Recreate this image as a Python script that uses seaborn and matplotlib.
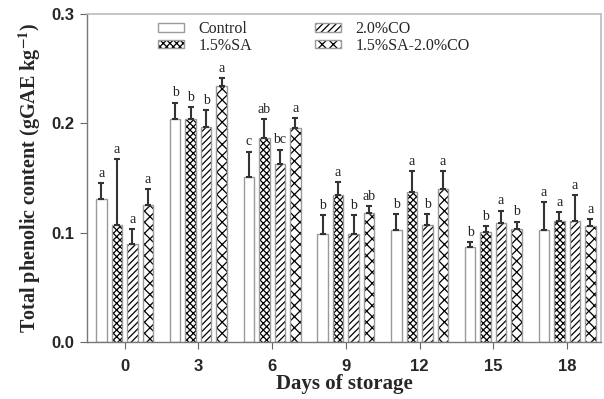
import matplotlib
matplotlib.use("Agg")
import matplotlib.pyplot as plt
from matplotlib.patches import Patch
from matplotlib.container import BarContainer
import matplotlib.colors as mcolors
import seaborn as sns
import pandas as pd
import numpy as np

days = ["0", "3", "6", "9", "12", "15", "18"]
treatments = ["Control", "1.5%SA", "2.0%CO", "1.5%SA-2.0%CO"]

control = [0.131, 0.204, 0.151, 0.099, 0.102, 0.087, 0.102]
sa      = [0.107, 0.204, 0.187, 0.134, 0.137, 0.101, 0.111]
co      = [0.090, 0.197, 0.163, 0.099, 0.107, 0.109, 0.111]
mix     = [0.125, 0.234, 0.196, 0.118, 0.140, 0.103, 0.106]

control_err = [0.014, 0.015, 0.023, 0.017, 0.015, 0.004, 0.026]
sa_err      = [0.060, 0.011, 0.017, 0.012, 0.019, 0.005, 0.008]
co_err      = [0.013, 0.015, 0.013, 0.017, 0.010, 0.011, 0.023]
mix_err     = [0.015, 0.007, 0.009, 0.006, 0.016, 0.007, 0.006]

control_lbl = ["a", "b", "c", "b", "b", "b", "a"]
sa_lbl      = ["a", "b", "ab", "a", "a", "b", "a"]
co_lbl      = ["a", "b", "bc", "b", "b", "a", "a"]
mix_lbl     = ["a", "a", "a", "ab", "a", "b", "a"]

values = [control, sa, co, mix]
errors = [control_err, sa_err, co_err, mix_err]
labels = [control_lbl, sa_lbl, co_lbl, mix_lbl]

rows = []
for t, vals in zip(treatments, values):
    for d, v in zip(days, vals):
        rows.append({"Day": d, "Treatment": t, "Value": v})
df = pd.DataFrame(rows)

sns.set_style("ticks")
plt.rcParams["hatch.linewidth"] = 0.9
plt.rcParams["mathtext.fontset"] = "stix"

fig = plt.figure(figsize=(6.04, 3.99), dpi=100)
ax = fig.add_axes([0.144, 0.143, 0.851, 0.822])

sns.barplot(data=df, x="Day", y="Value", hue="Treatment", order=days,
            hue_order=treatments, errorbar=None, width=0.84, gap=0.32,
            palette=["white"] * 4, legend=False, ax=ax,
            edgecolor="#9a9a9a", linewidth=1.0)

hatches = [None, "xxxxx", "/////", "xxx"]
edge = "#9a9a9a"
black = mcolors.to_rgba("black")


def style_patch(p, hatch):
    p.set_facecolor("white")
    p.set_edgecolor(edge)
    if hatch:
        p.set_hatch(hatch)
        if hasattr(p, "set_hatchcolor"):
            p.set_hatchcolor("black")
        p._hatch_color = black


bar_conts = [c for c in ax.containers if isinstance(c, BarContainer)]
for i, cont in enumerate(bar_conts):
    for j, p in enumerate(cont.patches):
        style_patch(p, hatches[i])
        xc = p.get_x() + p.get_width() / 2
        top = p.get_height()
        e = errors[i][j]
        ax.errorbar([xc], [top], yerr=[[0], [e]], fmt="none", ecolor="#333333",
                    elinewidth=1.5, capsize=2.2, capthick=1.5, zorder=3)
        ax.text(xc, top + e + 0.003, labels[i][j], ha="center", va="bottom",
                fontsize=10, family="Liberation Serif", color="#222222")

ax.set_ylim(0, 0.3)
ax.set_xlim(-0.51, 6.46)
ax.set_yticks([0.0, 0.1, 0.2, 0.3])
ax.set_yticklabels(["0.0", "0.1", "0.2", "0.3"])
for lab in ax.get_xticklabels() + ax.get_yticklabels():
    lab.set_fontweight("bold")
    lab.set_fontfamily("Liberation Sans")
    lab.set_fontsize(12)
ax.tick_params(axis="both", direction="out", length=5, width=0.8, color="#666666")
ax.tick_params(axis="x", pad=7)
ax.tick_params(axis="y", pad=4)

for s in ["left", "bottom"]:
    ax.spines[s].set_color("#777777")
    ax.spines[s].set_linewidth(1.0)
for s in ["top", "right"]:
    ax.spines[s].set_visible(True)
    ax.spines[s].set_color("#bbbbbb")
    ax.spines[s].set_linewidth(1.2)

ax.set_xlabel("Days of storage", fontsize=15, fontweight="bold",
              family="Liberation Serif", labelpad=0)
ax.set_ylabel("Total phenolic content (gGAE kg$^{\\mathbf{-1}}$)", fontsize=14.5,
              fontweight="bold", family="Liberation Serif", labelpad=6)

handles = []
for i, t in enumerate(treatments):
    h = Patch(label=t)
    style_patch(h, hatches[i])
    handles.append(h)
leg = ax.legend(handles=handles, ncol=2, loc="upper left",
                bbox_to_anchor=(0.138, 0.978), frameon=False,
                prop={"family": "Liberation Serif", "size": 11.5},
                handlelength=1.65, handleheight=0.45, columnspacing=3.9,
                labelspacing=0.04, handletextpad=0.9, borderpad=0.0,
                borderaxespad=0.0)

fig.savefig("out.png", dpi=100)
